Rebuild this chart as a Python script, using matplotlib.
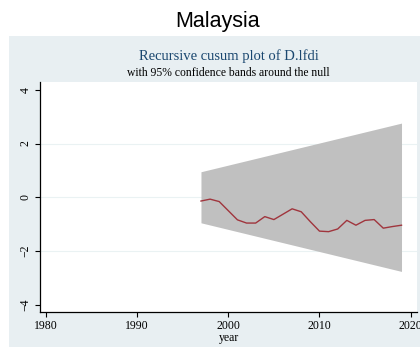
import matplotlib
matplotlib.use('Agg')
import matplotlib.pyplot as plt
from matplotlib.patches import Rectangle

# cusum statistic
years = [1997, 1998, 1999, 2000, 2001, 2002, 2003, 2004, 2005, 2006, 2007, 2008,
         2009, 2010, 2011, 2012, 2013, 2014, 2015, 2016, 2017, 2018, 2019]
cusum = [-0.14, -0.07, -0.16, -0.50, -0.84, -0.96, -0.96, -0.72, -0.83, -0.63, -0.43, -0.54,
         -0.91, -1.26, -1.28, -1.18, -0.86, -1.04, -0.86, -0.83, -1.15, -1.09, -1.04]

# 95% bands (straight lines between ends)
band_years = [1997, 2019]
band_hi = [0.95, 2.76]
band_lo = [-0.95, -2.76]

xticks = [1980, 1990, 2000, 2010, 2020]
yticks = [-4, -2, 0, 2, 4]

W, H = 420, 347
bg = '#e8eff2'

fig = plt.figure(figsize=(W / 100, H / 100), dpi=100)
fig.patch.set_facecolor('white')

# Stata-style graph region
fig.add_artist(Rectangle((9 / W, 0), 1 - 9 / W, 1 - 35.5 / H,
                         transform=fig.transFigure, facecolor=bg,
                         edgecolor='none', zorder=-10))

fig.text(218 / W, 1 - 21 / H, 'Malaysia', ha='center', va='center',
         fontsize=15.5, family='Liberation Sans')
fig.text(228.5 / W, 1 - 56 / H, 'Recursive cusum plot of D.lfdi', ha='center',
         va='center', fontsize=10.5, family='Liberation Serif', color='#1a476f')
fig.text(228.5 / W, 1 - 73 / H, 'with 95% confidence bands around the null',
         ha='center', va='center', fontsize=8.4, family='Liberation Serif')

ax = fig.add_axes([40 / W, 1 - 312 / H, 377 / W, 230 / H])
ax.set_zorder(5)
ax.set_facecolor('white')

ax.fill_between(band_years, band_lo, band_hi, color='#c0c0c0', lw=0, zorder=2)
ax.plot(years, cusum, color='#a0353d', lw=1.0, zorder=3)

ax.set_xlim(1979.34, 2020.7)
ax.set_ylim(-4.27, 4.29)
ax.set_xticks(xticks)
ax.set_yticks(yticks)
for v in [-2, 0, 2]:
    ax.axhline(v, color='#eaf2f3', lw=0.8, zorder=1)

for s in ['top', 'right']:
    ax.spines[s].set_visible(False)
for s in ['left', 'bottom']:
    ax.spines[s].set_linewidth(0.9)

ax.tick_params(direction='out', length=3.6, width=0.8, labelsize=8.5, pad=2.5)
for lab in ax.get_xticklabels() + ax.get_yticklabels():
    lab.set_family('Liberation Serif')
plt.setp(ax.get_yticklabels(), rotation=90, va='center')
ax.set_xlabel('year', fontsize=8.5, family='Liberation Serif', labelpad=0)

fig.savefig('out.png', dpi=100, facecolor='white')
